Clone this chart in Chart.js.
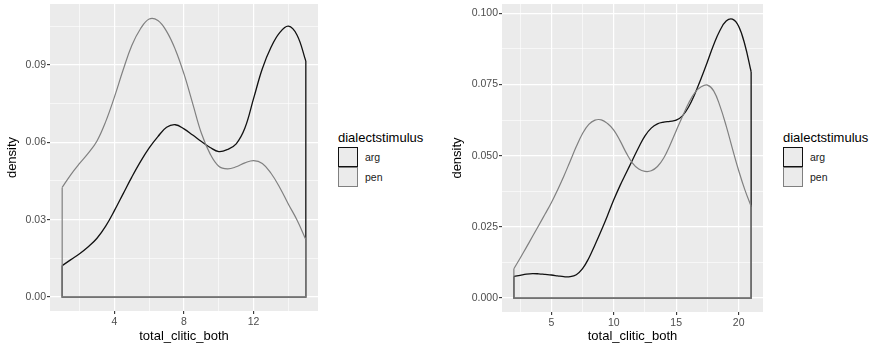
<!DOCTYPE html>
<html>
<head>
<meta charset="utf-8">
<title>Density of total_clitic_both by dialectstimulus</title>
<script src="https://cdn.jsdelivr.net/npm/chart.js@4.4.0/dist/chart.umd.min.js"></script>
<style>
    html, body { margin: 0; padding: 0; background: #ffffff; }
    body {
        width: 875px; height: 346px; position: relative; overflow: hidden;
        font-family: 'Liberation Sans', Arial, sans-serif;
    }
    canvas { position: absolute; top: 0; }
    .legend { position: absolute; color: #000000; }
    .legend-title { font-size: 13px; line-height: 15px; margin-bottom: 2px; white-space: nowrap; }
    .legend-row { display: flex; align-items: center; height: 20px; }
    .legend-key {
        width: 20px; height: 20px; box-sizing: border-box;
        background: #EBEBEB; border: 1.3px solid #111111;
    }
    .legend-label { font-size: 10.5px; margin-left: 7px; color: #1a1a1a; }
</style>
</head>
<body>
<canvas id="leftChart" width="330" height="346" style="left:0"></canvas>
<canvas id="rightChart" width="330" height="346" style="left:445px"></canvas>
<div id="leftLegend" class="legend" style="left:338px; top:130px"></div>
<div id="rightLegend" class="legend" style="left:783px; top:130px"></div>

<script>
// ============================================================================
// Data
// ============================================================================

const groups = ['arg', 'pen'];
const groupColors = ['#111111', '#808080'];

// left panel
const leftX = [1, 1.5, 2, 2.5, 3, 3.5, 4, 4.5, 5, 5.5, 6, 6.5, 7, 7.5, 8, 8.5, 9, 9.5,
    10, 10.5, 11, 11.5, 12, 12.5, 13, 13.5, 14, 14.5, 15];
const leftArg = [0.0122, 0.0145, 0.0168, 0.0195, 0.0228, 0.0275, 0.0335, 0.0400, 0.0465,
    0.0525, 0.0578, 0.0622, 0.0658, 0.0668, 0.0652, 0.0628, 0.0603, 0.0580, 0.0564,
    0.0572, 0.0594, 0.0655, 0.0770, 0.0885, 0.0968, 0.1025, 0.1050, 0.1015, 0.0915];
const leftPen = [0.0425, 0.0475, 0.0518, 0.0558, 0.0605, 0.0680, 0.0775, 0.0880, 0.0975,
    0.1040, 0.1078, 0.1072, 0.1030, 0.0960, 0.0865, 0.0750, 0.0635, 0.0555, 0.0507,
    0.0497, 0.0505, 0.0520, 0.0529, 0.0518, 0.0480, 0.0425, 0.0360, 0.0298, 0.0223];
const leftXTicks = [2, 4, 6, 8, 10, 12, 14];
const leftXLabels = ['', '4', '', '8', '', '12', ''];
const leftYTicks = [0, 0.015, 0.03, 0.045, 0.06, 0.075, 0.09, 0.105];
const leftYLabels = ['0.00', '', '0.03', '', '0.06', '', '0.09', ''];

// right panel
const rightX = [2, 2.5, 3, 3.5, 4, 4.5, 5, 5.5, 6, 6.5, 7, 7.5, 8, 8.5, 9, 9.5, 10, 10.5,
    11, 11.5, 12, 12.5, 13, 13.5, 14, 14.5, 15, 15.5, 16, 16.5, 17, 17.5, 18, 18.5, 19,
    19.5, 20, 20.5, 21];
const rightArg = [0.0076, 0.0080, 0.0084, 0.0086, 0.0085, 0.0083, 0.0081, 0.0078, 0.0075,
    0.0075, 0.0082, 0.0103, 0.0140, 0.0187, 0.0237, 0.0290, 0.0345, 0.0395, 0.0440,
    0.0485, 0.0530, 0.0570, 0.0597, 0.0612, 0.0618, 0.0621, 0.0625, 0.0640, 0.0672,
    0.0718, 0.0772, 0.0830, 0.0890, 0.0940, 0.0973, 0.0980, 0.0955, 0.0890, 0.0795];
const rightPen = [0.0103, 0.0140, 0.0178, 0.0217, 0.0256, 0.0295, 0.0335, 0.0380, 0.0428,
    0.0480, 0.0532, 0.0578, 0.0610, 0.0625, 0.0626, 0.0613, 0.0590, 0.0553, 0.0510,
    0.0474, 0.0453, 0.0445, 0.0447, 0.0462, 0.0492, 0.0537, 0.0588, 0.0638, 0.0685,
    0.0722, 0.0742, 0.0748, 0.0728, 0.0675, 0.0605, 0.0525, 0.0448, 0.0380, 0.0322];
const rightXTicks = [2.5, 5, 7.5, 10, 12.5, 15, 17.5, 20];
const rightXLabels = ['', '5', '', '10', '', '15', '', '20'];
const rightYTicks = [0, 0.0125, 0.025, 0.0375, 0.05, 0.0625, 0.075, 0.0875, 0.1];
const rightYLabels = ['0.000', '', '0.025', '', '0.050', '', '0.075', '', '0.100'];

// ============================================================================
// Helpers
// ============================================================================

const FONT = "'Liberation Sans', Arial, sans-serif";

/**
 * Grey panel behind the plot area (ggplot theme_grey)
 */
const panelBackground = {
    id: 'panelBackground',
    beforeDraw(chart) {
        const { ctx, chartArea: a } = chart;
        ctx.save();
        ctx.fillStyle = '#EBEBEB';
        ctx.fillRect(a.left, a.top, a.right - a.left, a.bottom - a.top);
        ctx.restore();
    }
};

function toPoints(xs, ys) {
    return xs.map((x, i) => ({ x: x, y: ys[i] }));
}

/**
 * Baseline and the two closing edges of a density polygon
 */
function outlinePoints(xs, ys) {
    const n = xs.length - 1;
    return [
        { x: xs[0], y: ys[0] },
        { x: xs[0], y: 0 },
        { x: xs[n], y: 0 },
        { x: xs[n], y: ys[n] }
    ];
}

/**
 * Axis in ggplot style: white major + minor grid, dark tick marks on majors only
 */
function buildAxis(title, tickValues, tickLabels, min, max, isY, size) {
    const isMajor = (ctx) => tickLabels[ctx.index] !== '' && tickLabels[ctx.index] !== undefined;
    return {
        type: 'linear',
        min: min,
        max: max,
        afterBuildTicks: (scale) => {
            scale.ticks = tickValues.map(v => ({ value: v }));
        },
        afterFit: (scale) => {
            if (isY) {
                scale.width = size;
                scale.paddingTop = 0;
                scale.paddingBottom = 0;
            } else {
                scale.height = size;
                scale.paddingLeft = 0;
                scale.paddingRight = 0;
            }
        },
        border: { display: false },
        grid: {
            color: '#FFFFFF',
            lineWidth: (ctx) => isMajor(ctx) ? 1.2 : 0.6,
            drawTicks: true,
            tickLength: 3,
            tickWidth: 1.1,
            tickColor: (ctx) => isMajor(ctx) ? '#333333' : 'rgba(0,0,0,0)'
        },
        ticks: {
            autoSkip: false,
            maxRotation: 0,
            minRotation: 0,
            padding: isY ? 1 : 2,
            color: '#4D4D4D',
            font: { family: FONT, size: 10.5 },
            callback: (value, index) => tickLabels[index]
        },
        title: {
            display: true,
            text: title,
            color: '#000000',
            font: { family: FONT, size: 13 },
            padding: isY ? { top: 5, bottom: 0 } : { top: 0, bottom: 1 }
        }
    };
}

function lineDataset(points, color, order, smooth) {
    return {
        data: points,
        borderColor: color,
        borderWidth: color === groupColors[0] ? 1.3 : 1.2,
        pointRadius: 0,
        fill: false,
        tension: smooth ? 0.4 : 0,
        order: order
    };
}

/**
 * Create one density panel
 */
function createDensityChart(canvasId, xs, argYs, penYs, axes) {
    const ctx = document.getElementById(canvasId).getContext('2d');
    return new Chart(ctx, {
        type: 'line',
        data: {
            datasets: [
                lineDataset(toPoints(xs, argYs), groupColors[0], 3, true),
                lineDataset(outlinePoints(xs, argYs), groupColors[0], 2, false),
                lineDataset(toPoints(xs, penYs), groupColors[1], 1, true),
                lineDataset(outlinePoints(xs, penYs), groupColors[1], 0, false)
            ]
        },
        options: {
            responsive: false,
            animation: false,
            layout: { padding: { top: 4, right: axes.padRight, bottom: 1, left: 0 } },
            plugins: {
                legend: { display: false },
                tooltip: { enabled: false }
            },
            scales: {
                x: buildAxis('total_clitic_both', axes.xTicks, axes.xLabels,
                    axes.xMin, axes.xMax, false, axes.xHeight),
                y: buildAxis('density', axes.yTicks, axes.yLabels,
                    axes.yMin, axes.yMax, true, axes.yWidth)
            }
        },
        plugins: [panelBackground]
    });
}

/**
 * Legend with title and outlined keys
 */
function buildLegend(containerId) {
    const box = document.getElementById(containerId);
    let html = '<div class="legend-title">dialectstimulus</div>';
    groups.forEach((g, i) => {
        html += `<div class="legend-row">
            <div class="legend-key" style="border-color:${groupColors[i]}"></div>
            <div class="legend-label">${g}</div>
        </div>`;
    });
    box.innerHTML = html;
}

// ============================================================================
// Document Ready
// ============================================================================

document.addEventListener('DOMContentLoaded', function() {
    createDensityChart('leftChart', leftX, leftArg, leftPen, {
        xTicks: leftXTicks, xLabels: leftXLabels, xMin: 0.3, xMax: 15.7,
        yTicks: leftYTicks, yLabels: leftYLabels, yMin: -0.0054, yMax: 0.1136,
        yWidth: 50, xHeight: 34, padRight: 12
    });
    createDensityChart('rightChart', rightX, rightArg, rightPen, {
        xTicks: rightXTicks, xLabels: rightXLabels, xMin: 1.05, xMax: 21.95,
        yTicks: rightYTicks, yLabels: rightYLabels, yMin: -0.0049, yMax: 0.1033,
        yWidth: 57, xHeight: 33, padRight: 12
    });
    buildLegend('leftLegend');
    buildLegend('rightLegend');
});
</script>
</body>
</html>
